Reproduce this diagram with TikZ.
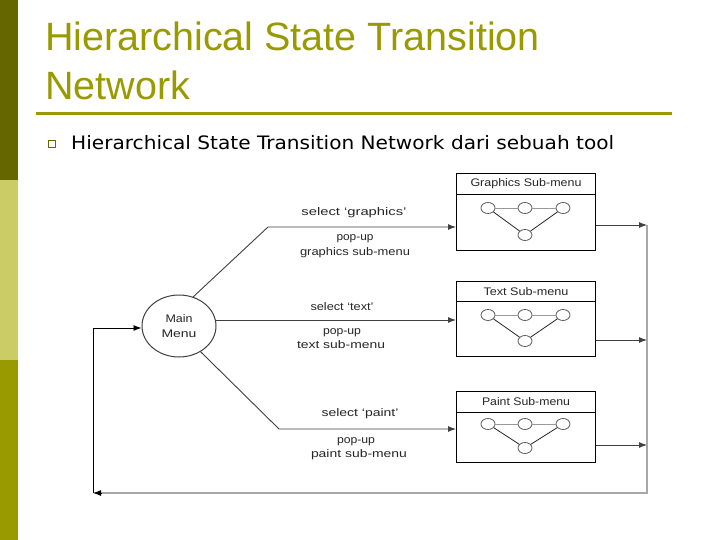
\documentclass[tikz,border=0pt]{standalone}
\usepackage{fontspec}
\usepackage{graphicx}
\setmainfont{Liberation Sans}
\newfontfamily\tahomafont{DejaVu Sans}
\usetikzlibrary{shapes.geometric,arrows.meta}
\definecolor{oliveM}{HTML}{999900}
\definecolor{oliveD}{HTML}{666600}
\definecolor{oliveL}{HTML}{CCCC66}
\definecolor{lgray}{HTML}{A8A8A8}
\newcommand{\fitw}[2]{\resizebox{#1}{\height}{#2}}
\begin{document}
\begin{tikzpicture}[x=1pt,y=-1pt,
  titletext/.style={anchor=base west, inner sep=0pt, text=oliveM, font=\fontsize{39.5}{47}\selectfont},
  lab/.style={inner sep=0pt, text=black!85, font=\fontsize{11}{13}\selectfont},
  boxpart/.style={draw=black, line width=1pt, minimum width=139pt, inner sep=0pt, anchor=north west, text=black!85, font=\fontsize{11}{13}\selectfont},
  mini/.style={ellipse, draw=black!65, line width=0.8pt, minimum width=14pt, minimum height=11pt, inner sep=0pt},
  topedge/.style={draw=black!40, line width=0.9pt},
  diagedge/.style={draw=black!85, line width=0.8pt},
  arr/.style={draw=black!75, line width=0.9pt, -{Latex[length=8pt,width=6pt]}},
  grayline/.style={draw=lgray, line width=2pt},
]
\useasboundingbox (0,0) rectangle (720,540);
\fill[white] (0,0) rectangle (720,540);
% left bar
\fill[oliveD] (0,0) rectangle (18,180);
\fill[oliveL] (0,180) rectangle (18,360);
\fill[oliveM] (0,360) rectangle (18,540);
% title
\node[titletext] (t1) at (45,50.7) {Hierarchical State Transition};
\node[titletext] (t2) at (45,100) {Network};
\draw[oliveM, line width=3pt] (36,114) -- (672,114);
% bullet
\node[draw=oliveD, line width=1.1pt, minimum size=7pt, inner sep=0pt] (bul) at (52,144) {};
\node[anchor=base west, inner sep=0pt, font=\tahomafont\fontsize{18.5}{22}\selectfont] (btext) at (71,149.5)
  {\fitw{543pt}{Hierarchical State Transition Network dari sebuah tool}};

% main menu
\node[ellipse, draw=black!75, line width=1pt, minimum width=74pt, minimum height=62pt, inner sep=0pt,
  align=center, text=black!85, font=\fontsize{11}{14.5}\selectfont] (main) at (179,326)
  {\fitw{27pt}{Main}\\\fitw{35pt}{Menu}};

% graphics submenu
\node[boxpart, minimum height=21pt] (ghead) at (456,173) {\fitw{111pt}{Graphics Sub-menu}};
\node[boxpart, minimum height=56pt] (gbody) at (456,194) {};
\node[mini] (g1) at (488,208) {};
\node[mini] (g2) at (525,208) {};
\node[mini] (g3) at (563,208) {};
\node[mini] (g4) at (525,235) {};
\draw[topedge] (g1) -- (g2) (g2) -- (g3);
\draw[diagedge] (g1) -- (g4) (g3) -- (g4);

% text submenu
\node[boxpart, minimum height=20pt] (thead) at (456,281) {\fitw{85pt}{Text Sub-menu}};
\node[boxpart, minimum height=55pt] (tbody) at (456,301) {};
\node[mini] (h1) at (488,315) {};
\node[mini] (h2) at (525,315) {};
\node[mini] (h3) at (563,315) {};
\node[mini] (h4) at (525,341) {};
\draw[topedge] (h1) -- (h2) (h2) -- (h3);
\draw[diagedge] (h1) -- (h4) (h3) -- (h4);

% paint submenu
\node[boxpart, minimum height=21pt] (phead) at (456,391) {\fitw{88pt}{Paint Sub-menu}};
\node[boxpart, minimum height=50pt] (pbody) at (456,412) {};
\node[mini] (p1) at (488,424) {};
\node[mini] (p2) at (525,424) {};
\node[mini] (p3) at (563,424) {};
\node[mini] (p4) at (525,448) {};
\draw[topedge] (p1) -- (p2) (p2) -- (p3);
\draw[diagedge] (p1) -- (p4) (p3) -- (p4);

% connectors from main
\coordinate (gk) at (268,227);
\coordinate (pk) at (279,429);
\coordinate (tk) at (215,320);
\draw[arr] (main.64) -- (gk) -- (gk -| gbody.west);
\draw[arr] (tk) -- (tk -| tbody.west);
\draw[arr] (main.-50) -- (pk) -- (pk -| pbody.west);

% labels
\node[lab] (lg1) at (354,213) {\fitw{105pt}{select `graphics'}};
\node[lab] (lg2) at (355,239) {\fitw{37pt}{pop-up}};
\node[lab] (lg3) at (355,253) {\fitw{110pt}{graphics sub-menu}};
\node[lab] (lt1) at (342,307) {\fitw{63pt}{select `text'}};
\node[lab] (lt2) at (342,333) {\fitw{38pt}{pop-up}};
\node[lab] (lt3) at (341,345) {\fitw{88pt}{text sub-menu}};
\node[lab] (lp1) at (360,414) {\fitw{77pt}{select `paint'}};
\node[lab] (lp2) at (356,442) {\fitw{38pt}{pop-up}};
\node[lab] (lp3) at (359,455) {\fitw{96pt}{paint sub-menu}};

% return path
\coordinate (rt) at (647,225);
\coordinate (rb) at (647,493);
\coordinate (lb) at (93,493);
\coordinate (lt) at (93,328);
\coordinate (go) at (gbody.east |- 0,225);
\coordinate (to) at (tbody.east |- 0,340);
\coordinate (po) at (pbody.east |- 0,445);
\draw[grayline] (rt) -- (rb) -- ([xshift=6pt]lb);
\draw[arr] (go) -- (go -| rt);
\draw[arr] (to) -- (to -| rt);
\draw[arr] (po) -- (po -| rt);
\draw[draw=black, line width=0.9pt, -{Latex[length=8pt,width=6pt]}] ([xshift=8pt]lb) -- (lb);
\draw[arr, draw=black] (lb) -- (lt) -- (main.west |- lt);
\end{tikzpicture}
\end{document}
